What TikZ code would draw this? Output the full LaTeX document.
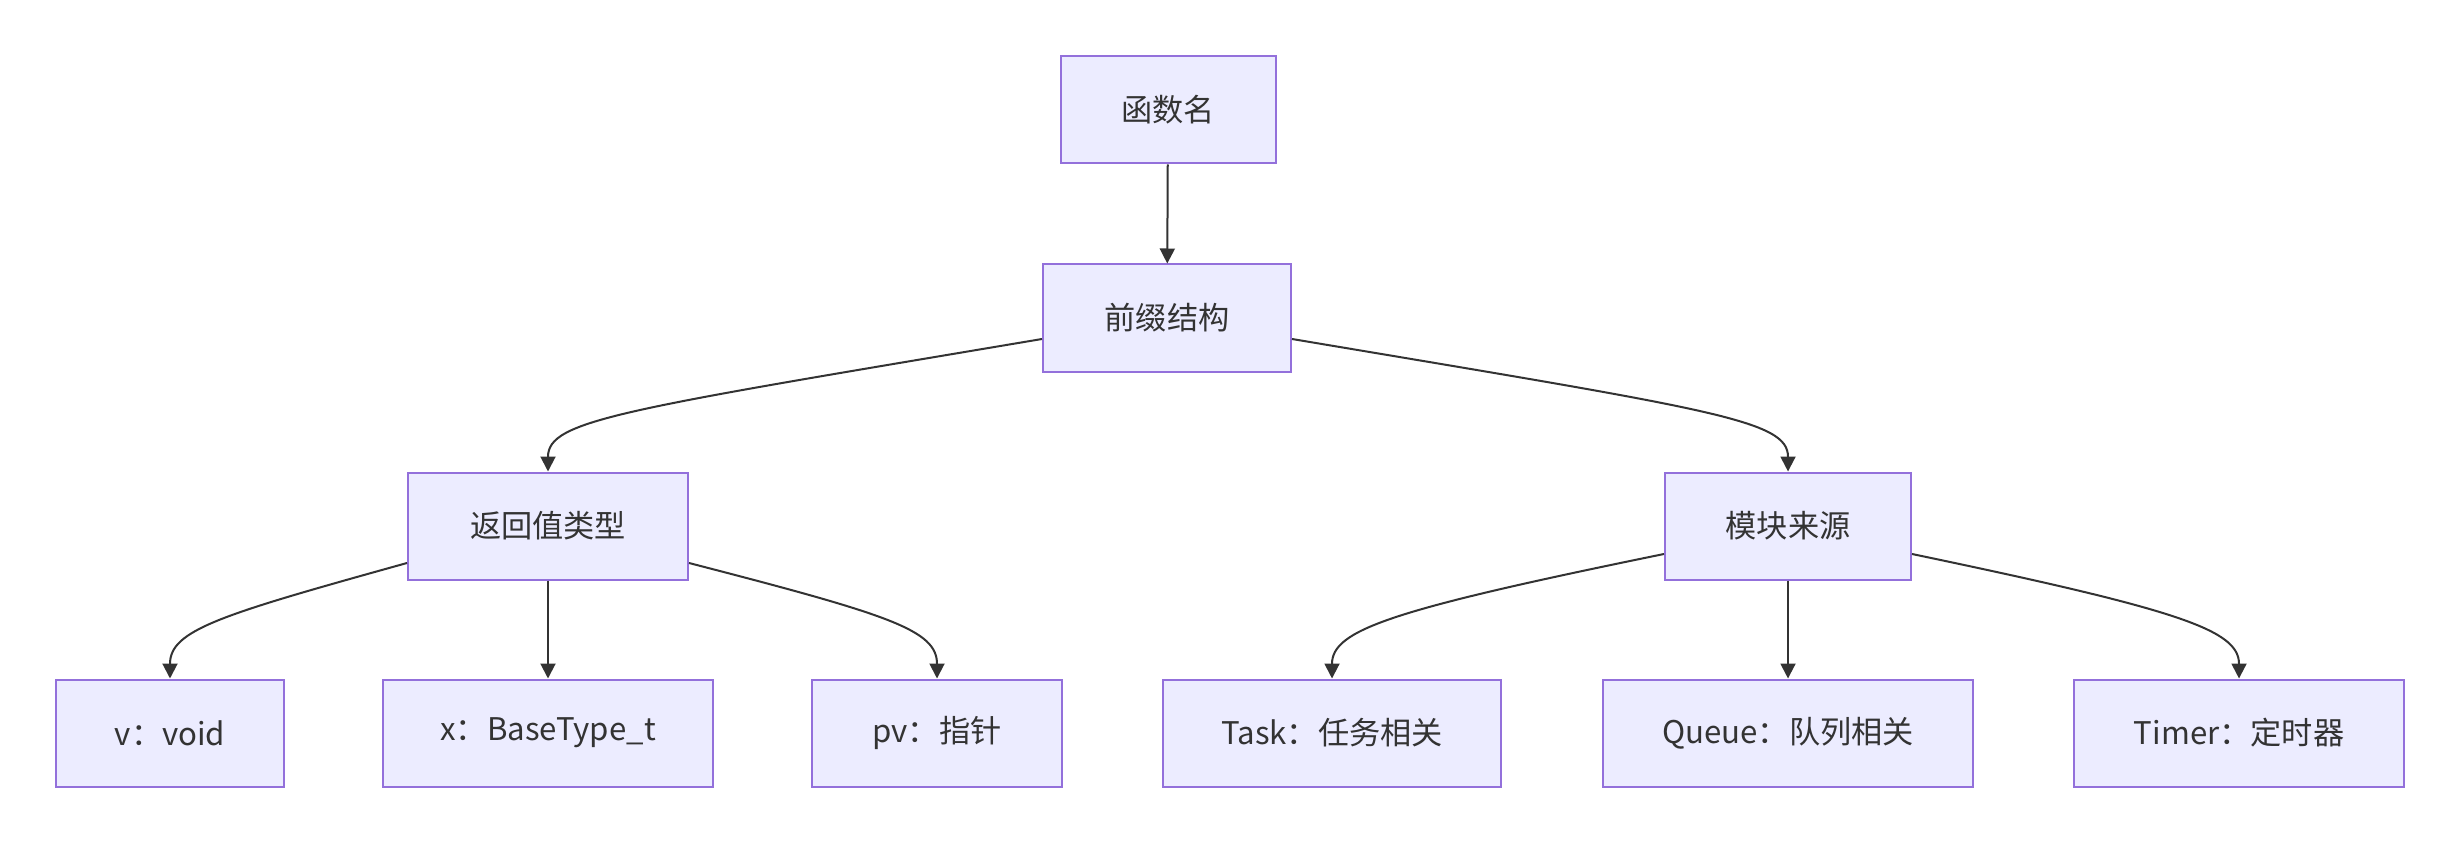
\documentclass[tikz,border=0pt]{standalone}
\usepackage{fontspec}
\setmainfont{Noto Sans CJK SC}
\usetikzlibrary{arrows.meta}
\definecolor{kastenrand}{HTML}{9370DB}
\definecolor{kastenfill}{HTML}{ECECFF}
\definecolor{textgrau}{HTML}{333333}

\begin{document}
\begin{tikzpicture}[
  x=0.5pt,y=-0.5pt,
  box/.style={draw=kastenrand,fill=kastenfill,line width=1pt,minimum height=53.5pt,
    inner sep=0pt,align=center,text=textgrau,font=\fontsize{15.6pt}{18pt}\selectfont},
  arrow/.style={-{Triangle[length=7.5pt,width=7.5pt]},draw=textgrau,line width=1pt}
]
  \useasboundingbox (0,0) rectangle (2460,844);
  % ebene 1 und 2
  \node[box,minimum width=107.5pt] (fname) at (1168,110) {函数名};
  \node[box,minimum width=124pt] (prefix) at (1167,318) {前缀结构};
  % ebene 3
  \node[box,minimum width=140pt] (ret) at (548,526) {返回值类型};
  \node[box,minimum width=123pt] (modul) at (1788,526) {模块来源};
  % ebene 4
  \node[box,minimum width=114pt] (tvoid) at (170,733) {v：void};
  \node[box,minimum width=165pt] (tbase) at (548,733) {x：BaseType\_t};
  \node[box,minimum width=125pt] (tptr) at (937,733) {pv：指针};
  \node[box,minimum width=169pt] (mtask) at (1332,733) {Task：任务相关};
  \node[box,minimum width=185pt] (mqueue) at (1788,733) {Queue：队列相关};
  \node[box,minimum width=165pt] (mtimer) at (2239,733) {Timer：定时器};

  \draw[arrow] (fname)--(prefix);
  \draw[arrow] (prefix.west|-0,339) .. controls (620,410) and (548,420) .. (ret.north);
  \draw[arrow] (prefix.east|-0,339) .. controls (1715,410) and (1788,420) .. (modul.north);
  \draw[arrow] (ret)--(tbase);
  \draw[arrow] (modul)--(mqueue);
  \draw[arrow] (ret.west|-0,563) .. controls (220,615) and (170,630) .. (tvoid.north);
  \draw[arrow] (ret.east|-0,563) .. controls (890,615) and (937,630) .. (tptr.north);
  \draw[arrow] (modul.west|-0,554) .. controls (1390,610) and (1332,630) .. (mtask.north);
  \draw[arrow] (modul.east|-0,554) .. controls (2180,610) and (2239,630) .. (mtimer.north);
\end{tikzpicture}
\end{document}
